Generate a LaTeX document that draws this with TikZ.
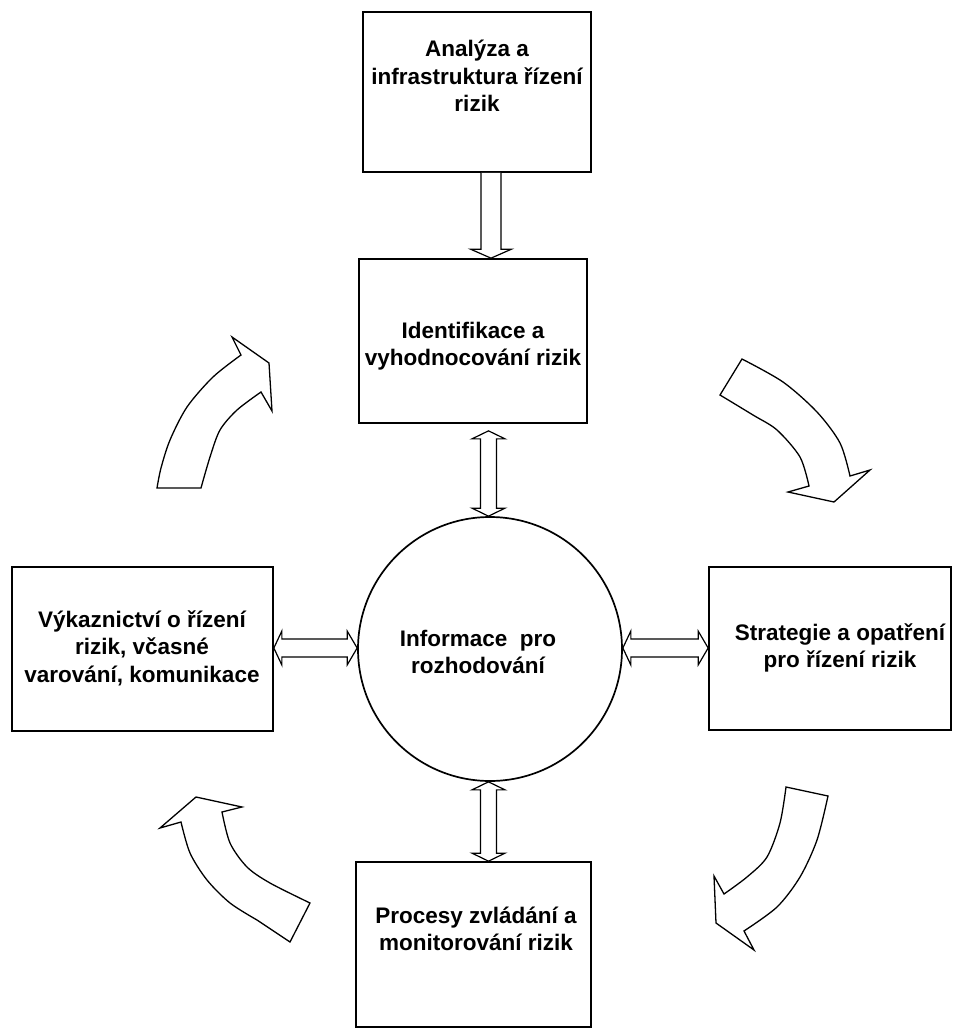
\documentclass[tikz,border=0pt]{standalone}
\usepackage{fontspec}
\setmainfont{Liberation Sans}
\usetikzlibrary{calc}

% vertical double block arrow from #1 (top tip) to #2 (bottom tip)
\newcommand{\dblvarrow}[2]{%
  \draw[blk] let \p1=(#1), \p2=(#2) in
    (\x1,\y1) -- (\x1+16.5pt,\y1-8pt) -- (\x1+8pt,\y1-8pt) -- (\x1+8pt,\y2+8pt)
    -- (\x1+16.5pt,\y2+8pt) -- (\x1,\y2) -- (\x1-16.5pt,\y2+8pt) -- (\x1-8pt,\y2+8pt)
    -- (\x1-8pt,\y1-8pt) -- (\x1-16.5pt,\y1-8pt) -- cycle;}
% horizontal double block arrow from #1 (left tip) to #2 (right tip)
\newcommand{\dblharrow}[2]{%
  \draw[blk] let \p1=(#1), \p2=(#2) in
    (\x1,\y1) -- (\x1+8pt,\y1+17pt) -- (\x1+8pt,\y1+9pt) -- (\x2-10pt,\y1+9pt)
    -- (\x2-10pt,\y1+17pt) -- (\x2,\y1) -- (\x2-10pt,\y1-17pt) -- (\x2-10pt,\y1-9pt)
    -- (\x1+8pt,\y1-9pt) -- (\x1+8pt,\y1-17pt) -- cycle;}

\begin{document}
\begin{tikzpicture}[x=1pt,y=-1pt,
  box/.style={draw, line width=1.7pt, inner sep=0pt},
  lbl/.style={font=\bfseries\fontsize{22.5}{27.5}\selectfont, align=center, inner sep=0pt},
  blk/.style={draw, line width=1.2pt, line join=miter, fill=white},
  bendarrow/.style={draw, line width=1.3pt, line join=miter, fill=white}]
\useasboundingbox (0,0) rectangle (959,1028);
\fill[white] (0,0) rectangle (959,1028);

% boxes and the central circle
\node[box, minimum width=228pt, minimum height=160pt] (an) at (477,92) {};
\node[box, minimum width=228pt, minimum height=164pt] (id) at (473,341) {};
\node[box, minimum width=261pt, minimum height=164pt] (rep) at (142.5,649) {};
\node[box, minimum width=242pt, minimum height=163pt] (str) at (830,648.5) {};
\node[box, minimum width=235pt, minimum height=165pt] (pro) at (473.5,944.5) {};
\node[box, circle, minimum size=264pt] (info) at (490,649) {};

% texts
\node[lbl] (an-t) at (477,76) {Analýza a\\infrastruktura řízení\\rizik};
\node[lbl] (id-t) at (473,346) {Identifikace a\\vyhodnocování rizik};
\node[lbl] (rep-t) at (142,648) {Výkaznictví o řízení\\rizik, včasné\\varování, komunikace};
\node[lbl] (str-t) at (840,648) {Strategie a opatření\\pro řízení rizik};
\node[lbl] (info-t) at (478,652) {Informace~~pro\\rozhodování};
\node[lbl] (pro-t) at (476,929) {Procesy zvládání a\\monitorování rizik};

% single block arrow between the two upper boxes
\draw[blk] let \p1=(491,0 |- an.south), \p2=(491,0 |- id.north) in
  (\x1-10pt,\y1) -- (\x1-10pt,\y2+9pt) -- (\x1-20.5pt,\y2+9pt) -- (\x1,\y2)
  -- (\x1+20.5pt,\y2+9pt) -- (\x1+10pt,\y2+9pt) -- (\x1+10pt,\y1);

% double block arrows round the circle
\coordinate (idgap) at ($(488.5,0 |- id.south)+(0,7)$);
\dblvarrow{idgap}{488.5,0 |- info.north}
\dblvarrow{488.5,0 |- info.south}{488.5,0 |- pro.north}
\dblharrow{rep.east |- 0,648}{info.west |- 0,648}
\dblharrow{info.east |- 0,648}{str.west |- 0,648}

% curved block arrows of the cycle
\draw[bendarrow] plot[smooth] coordinates {(157,488)(161,468)(170,440)(187,407)(213,377)(241,355)}
  -- (232,337) -- (269,363) -- (272,411)
  -- plot[smooth] coordinates {(261,392)(237,410)(220,430)(210,457)(201,488)} -- cycle;
\draw[bendarrow] plot[smooth] coordinates {(742,359)(783,382)(817,412)(840,443)(850,476)}
  -- (870,470) -- (834,502) -- (788,492)
  -- plot[smooth] coordinates {(809,486)(800,457)(777,430)(753,415)(720,395)} -- cycle;
\draw[bendarrow] plot[smooth] coordinates {(828,796)(817,840)(800,877)(777,907)(744,931)}
  -- (754,950) -- (716,923) -- (714,876)
  -- plot[smooth] coordinates {(724,894)(747,877)(767,857)(780,823)(786,787)} -- cycle;
\draw[bendarrow] plot[smooth] coordinates {(222,812)(230,843)(247,867)(270,883)(310,903)}
  -- (290,942)
  -- plot[smooth] coordinates {(257,920)(230,903)(207,880)(190,853)(181,822)}
  -- (160,828) -- (196,797) -- (242,807) -- cycle;
\end{tikzpicture}
\end{document}
